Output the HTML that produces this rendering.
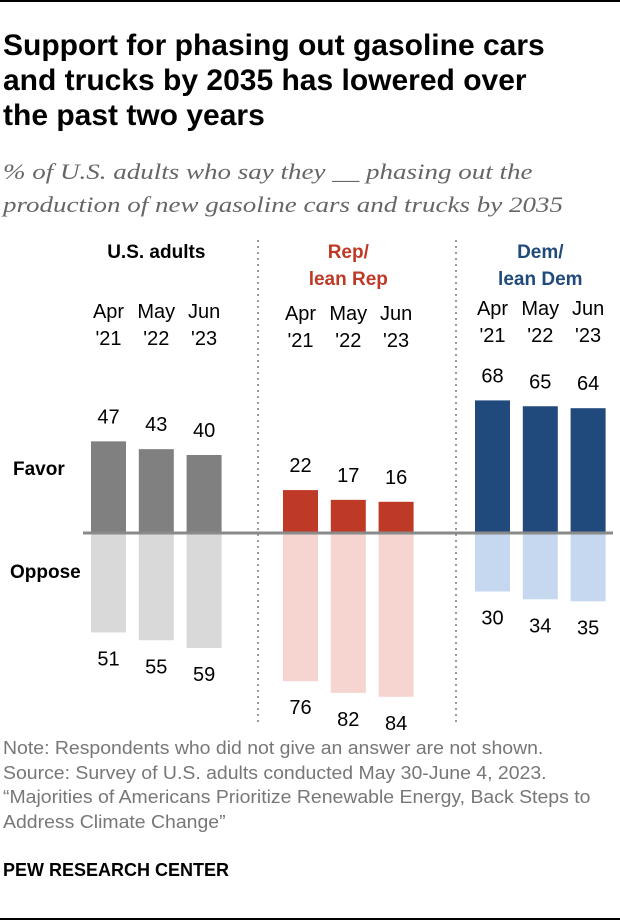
<!DOCTYPE html>
<html><head><meta charset="utf-8"><style>
body{margin:0;width:620px;height:924px;background:#fff;position:relative;overflow:hidden;font-family:"Liberation Sans",sans-serif}
.abs{position:absolute;margin:0;white-space:nowrap}
#title{left:3px;top:28px;font-family:"Liberation Sans",sans-serif;font-weight:bold;font-size:30px;line-height:35px;color:#000}
#sub{left:3px;top:155px;font-family:"Liberation Serif",serif;font-style:italic;font-size:22.5px;line-height:33px;color:#666;transform:scaleX(1.2);transform-origin:0 0}
#notes{left:3px;top:736px;font-family:"Liberation Sans",sans-serif;font-size:18px;line-height:24.5px;color:#777;transform:scaleX(1.08);transform-origin:0 0}
#pew{left:3px;top:860px;font-family:"Liberation Sans",sans-serif;font-weight:bold;font-size:18px;color:#000}
</style></head><body>
<div class="abs" style="left:0;top:0;width:620px;height:2px;background:#000"></div>
<div class="abs" style="left:0;top:918px;width:620px;height:2px;background:#000"></div>
<h1 class="abs" id="title">Support for phasing out gasoline cars<br>and trucks by 2035 has lowered over<br>the past two years</h1>
<div class="abs" id="sub">% of U.S. adults who say they __ phasing out the<br>production of new gasoline cars and trucks by 2035</div>
<svg class="abs" style="left:0;top:0" width="620" height="924" id="chart"></svg>
<div class="abs" id="notes">Note: Respondents who did not give an answer are not shown.<br>Source: Survey of U.S. adults conducted May 30-June 4, 2023.<br>“Majorities of Americans Prioritize Renewable Energy, Back Steps to<br>Address Climate Change”</div>
<div class="abs" id="pew">PEW RESEARCH CENTER</div>
<script>
const groups=["U.S. adults","Rep/ lean Rep","Dem/ lean Dem"];
const periods=["Apr '21","May '22","Jun '23"];
const favor=[[47,43,40],[22,17,16],[68,65,64]];
const oppose=[[51,55,59],[76,82,84],[30,34,35]];
const favorColors=["#808080","#bf3927","#214a7c"];
const opposeColors=["#d9d9d9","#f6d4d0","#c6d8f0"];
const NS="http://www.w3.org/2000/svg";
const svg=document.getElementById('chart');
const base=533, scale=1.95;
const groupX=[91,283,475], step=47.8, bw=35;
function y(v){return base-v*scale;}
function bx(g,i){return groupX[g]+i*step;}
function mk(tag,attrs,txt){const e=document.createElementNS(NS,tag);for(const k in attrs)e.setAttribute(k,attrs[k]);if(txt!==undefined)e.textContent=txt;svg.appendChild(e);return e;}
const fam='"Liberation Sans",sans-serif';
[258,456].forEach((x,k)=>{const l=mk('line',{x1:x,x2:x,y1:240,y2:722,stroke:'#999','stroke-width':2,'stroke-dasharray':'2,4'});

});
const titleColors=["#000","#bf3927","#214a7c"];
groups.forEach((g,gi)=>{
  const cx=groupX[gi]+step+bw/2;
  const parts=gi===0?[g]:[g.split(' ')[0],g.split(' ').slice(1).join(' ')];
  parts.forEach((p,pi)=>{const t=mk('text',{x:cx,y:258+pi*27,'text-anchor':'middle','font-family':fam,'font-weight':'bold','font-size':19,fill:titleColors[gi]},p);
  
  });
  const dy=[0,2,-3][gi];
  periods.forEach((p,i)=>{
    const x=bx(gi,i)+bw/2;
    const [m,yr]=p.split(' ');
    const t1=mk('text',{x:x,y:318+dy,'text-anchor':'middle','font-family':fam,'font-size':20,fill:'#000'},m);
    
    
    const t2=mk('text',{x:x,y:345+dy,'text-anchor':'middle','font-family':fam,'font-size':20,fill:'#000'},yr);
    
    
    const fv=favor[gi][i], ov=oppose[gi][i];
    const r1=mk('rect',{x:bx(gi,i),y:y(fv),width:bw,height:fv*scale,fill:favorColors[gi]});
    
    
    const r2=mk('rect',{x:bx(gi,i),y:base,width:bw,height:ov*scale,fill:opposeColors[gi]});
    
    
    const l1=mk('text',{x:x,y:y(fv)-18,'text-anchor':'middle','font-family':fam,'font-size':20,fill:'#000'},String(fv));
    
    
    const l2=mk('text',{x:x,y:base+ov*scale+33,'text-anchor':'middle','font-family':fam,'font-size':20,fill:'#000'},String(ov));
    
    
  });
});
const bl=mk('line',{x1:83,x2:613,y1:base,y2:base,stroke:'#8a8a8a','stroke-width':3});


const fl=mk('text',{x:13,y:475,'font-family':fam,'font-weight':'bold','font-size':19,fill:'#000'},'Favor');


const ol=mk('text',{x:10,y:578,'font-family':fam,'font-weight':'bold','font-size':19,fill:'#000'},'Oppose');


</script>
</body></html>
